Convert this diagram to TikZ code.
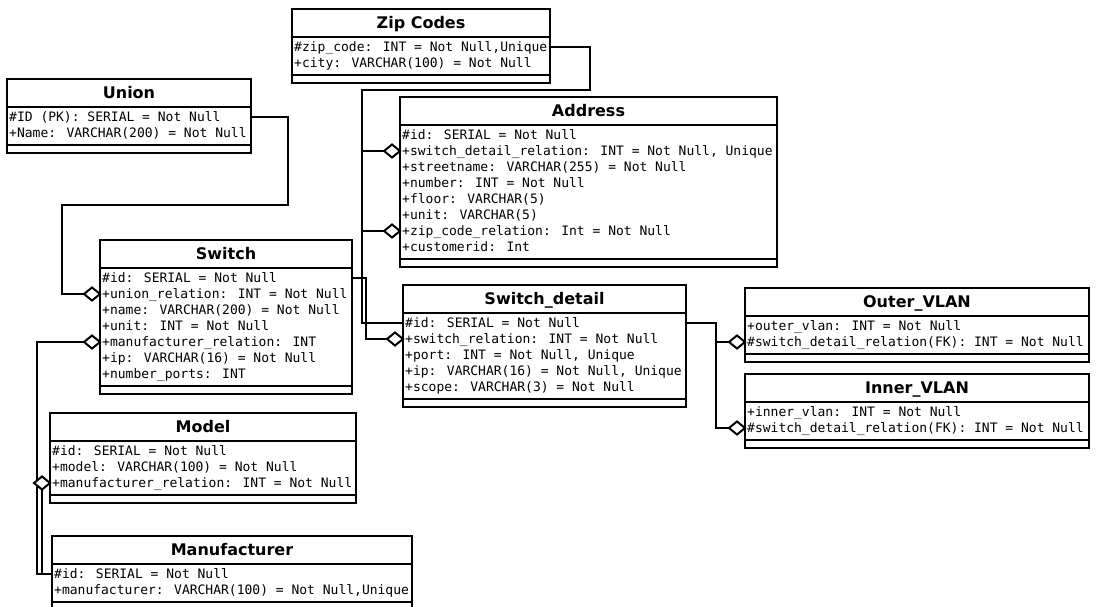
\documentclass[tikz,border=0pt]{standalone}
\usepackage{fontspec}
\newfontfamily\monofont{DejaVu Sans Mono}
\newfontfamily\headfont{DejaVu Sans}
\usetikzlibrary{shapes.geometric,backgrounds,calc}

\tikzset{
  line/.style={line width=2pt},
  box/.style={draw, rectangle, line width=2pt, inner sep=0pt, outer sep=0pt},
  title/.style={font=\headfont\bfseries\fontsize{16}{19}\selectfont, anchor=base, inner sep=0pt},
  attr/.style={font=\monofont\fontsize{13}{16}\selectfont, anchor=base west, inner sep=0pt},
  agg/.style={draw, diamond, fill=white, line width=2pt, minimum width=16pt,
              minimum height=13pt, inner sep=0pt, outer sep=0pt},
  conn/.style={line width=2pt},
}

% class box: name, left, top, right, number of attribute rows, title
\newcommand{\umlclass}[6]{%
  \node[box, anchor=north west, minimum width={#4-#2}, minimum height={42+16*#5}] (#1) at (#2,#3) {};
  \draw[line] ([yshift=-28]#1.north west) -- ([yshift=-28]#1.north east);
  \draw[line] ([yshift={-(34+16*#5)}]#1.north west) -- ([yshift={-(34+16*#5)}]#1.north east);
  \node[title] (#1-title) at ([yshift=-19.5]#1.north) {#6};
}
% attribute row: class, row number, text (also names the row's left end)
\newcommand{\attrrow}[3]{%
  \coordinate (#1-#2) at ([yshift={-(22+16*#2)}]#1.north west);
  \node[attr] (#1-t#2) at ([xshift=2, yshift={-(26.5+16*#2)}]#1.north west) {#3};
}
% aggregation diamond at the left end of a row
\newcommand{\aggat}[2]{\node[agg, anchor=east] (#1-d#2) at (#1-#2) {};}

\begin{document}
\begin{tikzpicture}[x=1pt, y=-1pt]
\path[use as bounding box] (0,0) rectangle (1098,606);
\clip (0,0) rectangle (1098,606);

\umlclass{zip}{292}{9}{550}{2}{Zip Codes}
\attrrow{zip}{1}{\#zip\_code: INT = Not Null,Unique}
\attrrow{zip}{2}{+city: VARCHAR(100) = Not Null}

\umlclass{union}{7}{79}{251}{2}{Union}
\attrrow{union}{1}{\#ID (PK): SERIAL = Not Null}
\attrrow{union}{2}{+Name: VARCHAR(200) = Not Null}

\umlclass{addr}{400}{97}{777}{8}{Address}
\attrrow{addr}{1}{\#id: SERIAL = Not Null}
\attrrow{addr}{2}{+switch\_detail\_relation: INT = Not Null, Unique}
\attrrow{addr}{3}{+streetname: VARCHAR(255) = Not Null}
\attrrow{addr}{4}{+number: INT = Not Null}
\attrrow{addr}{5}{+floor: VARCHAR(5)}
\attrrow{addr}{6}{+unit: VARCHAR(5)}
\attrrow{addr}{7}{+zip\_code\_relation: Int = Not Null}
\attrrow{addr}{8}{+customerid: Int}

\umlclass{sw}{100}{240}{352}{7}{Switch}
\attrrow{sw}{1}{\#id: SERIAL = Not Null}
\attrrow{sw}{2}{+union\_relation: INT = Not Null}
\attrrow{sw}{3}{+name: VARCHAR(200) = Not Null}
\attrrow{sw}{4}{+unit: INT = Not Null}
\attrrow{sw}{5}{+manufacturer\_relation: INT}
\attrrow{sw}{6}{+ip: VARCHAR(16) = Not Null}
\attrrow{sw}{7}{+number\_ports: INT}

\umlclass{sd}{403}{285}{686}{5}{Switch\_detail}
\attrrow{sd}{1}{\#id: SERIAL = Not Null}
\attrrow{sd}{2}{+switch\_relation: INT = Not Null}
\attrrow{sd}{3}{+port: INT = Not Null, Unique}
\attrrow{sd}{4}{+ip: VARCHAR(16) = Not Null, Unique}
\attrrow{sd}{5}{+scope: VARCHAR(3) = Not Null}

\umlclass{outer}{745}{288}{1089}{2}{Outer\_VLAN}
\attrrow{outer}{1}{+outer\_vlan: INT = Not Null}
\attrrow{outer}{2}{\#switch\_detail\_relation(FK): INT = Not Null}

\umlclass{inner}{745}{374}{1089}{2}{Inner\_VLAN}
\attrrow{inner}{1}{+inner\_vlan: INT = Not Null}
\attrrow{inner}{2}{\#switch\_detail\_relation(FK): INT = Not Null}

\umlclass{model}{50}{413}{356}{3}{Model}
\attrrow{model}{1}{\#id: SERIAL = Not Null}
\attrrow{model}{2}{+model: VARCHAR(100) = Not Null}
\attrrow{model}{3}{+manufacturer\_relation: INT = Not Null}

\umlclass{manu}{52}{536}{412}{2}{Manufacturer}
\attrrow{manu}{1}{\#id: SERIAL = Not Null}
\attrrow{manu}{2}{+manufacturer: VARCHAR(100) = Not Null,Unique}

\aggat{addr}{2}
\aggat{addr}{7}
\aggat{sw}{2}
\aggat{sw}{5}
\aggat{sd}{2}
\aggat{outer}{2}
\aggat{inner}{2}
\aggat{model}{3}

% routing lanes and bends
\coordinate (lane) at (362,0);
\coordinate (lane2) at (62,0);
\coordinate (lane3) at (366,0);
\coordinate (lane4) at (716,0);
\coordinate (lane5) at (37,0);
\coordinate (zipturn) at (590,90);
\coordinate (unionturn) at (288,205);

\begin{scope}[on background layer]
  \fill[white] (0,0) rectangle (1098,606);
  \draw[conn] (zip-1 -| zip.east) -| (zipturn) -- (zipturn -| lane) |- (addr-d7.west);
  \draw[conn] (sd-1) -- (sd-1 -| lane) |- (addr-d2.west);
  \draw[conn] (union-1 -| union.east) -| (unionturn) -- (unionturn -| lane2) |- (sw-d2.west);
  \draw[conn] (sw-1 -| sw.east) -| (lane3 |- sd-2) -- (sd-d2.west);
  \draw[conn] (sd-1 -| sd.east) -| (lane4 |- inner-2) -- (inner-d2.west);
  \draw[conn] (lane4 |- outer-2) -- (outer-d2.west);
  \draw[conn] (sw-d5.west) -| (lane5 |- manu-1) -- (manu-1);
  \draw[conn] (model-d3.south) |- (manu-1);
\end{scope}
\end{tikzpicture}
\end{document}
